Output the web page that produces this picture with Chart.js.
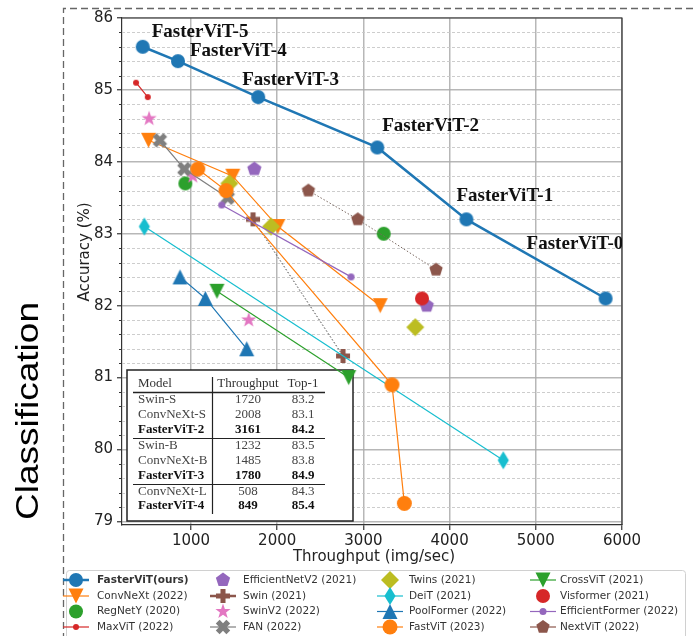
<!DOCTYPE html>
<html>
<head>
<meta charset="utf-8">
<script src="https://cdn.jsdelivr.net/npm/chart.js@4.4.1/dist/chart.umd.min.js"></script>
<style>
  html, body { margin: 0; padding: 0; background: #fff; }
  #wrap { position: relative; width: 696px; height: 636px; }
</style>
</head>
<body>
<div id="wrap"><canvas id="chart" width="696" height="636"></canvas></div>
<script>
// axis ticks
const xTicks = [1000, 2000, 3000, 4000, 5000, 6000];
const yTicks = [79, 80, 81, 82, 83, 84, 85, 86];

// series names, in legend order (matplotlib fills columns first)
const seriesNames = [
  'FasterViT(ours)', 'ConvNeXt (2022)', 'RegNetY (2020)', 'MaxViT (2022)',
  'EfficientNetV2 (2021)', 'Swin (2021)', 'SwinV2 (2022)', 'FAN (2022)',
  'Twins (2021)', 'DeiT (2021)', 'PoolFormer (2022)', 'FastViT (2023)',
  'CrossViT (2021)', 'Visformer (2021)', 'EfficientFormer (2022)', 'NextViT (2022)'
];

// throughput (img/sec) and top-1 accuracy (%) per family
const fastervitX = [440, 849, 1780, 3161, 4195, 5810];
const fastervitY = [85.6, 85.4, 84.9, 84.2, 83.2, 82.1];
const fastervitLabels = ['FasterViT-5', 'FasterViT-4', 'FasterViT-3', 'FasterViT-2', 'FasterViT-1', 'FasterViT-0'];
const convnextX = [508, 1485, 2008, 3195];
const convnextY = [84.3, 83.8, 83.1, 82.0];
const regnetyX = [935, 3236];
const regnetyY = [83.7, 83.0];
const maxvitX = [363, 499];
const maxvitY = [85.1, 84.9];
const effnetv2X = [1735, 3735];
const effnetv2Y = [83.9, 82.0];
const swinX = [1720, 2764];
const swinY = [83.2, 81.3];
const swinv2X = [514, 1021, 1670];
const swinv2Y = [84.6, 83.8, 81.8];
const fanX = [640, 923, 1427];
const fanY = [84.3, 83.9, 83.5];
const twinsX = [1445, 1929, 3602];
const twinsY = [83.7, 83.1, 81.7];
const deitX = [459, 4623];
const deitY = [83.1, 79.85];
const poolformerX = [873, 1167, 1647];
const poolformerY = [82.4, 82.1, 81.4];
const fastvitX = [1079, 1407, 3332, 3475];
const fastvitY = [83.9, 83.6, 80.9, 79.25];
const crossvitX = [1302, 2830];
const crossvitY = [82.2, 81.0];
const visformerX = [3680];
const visformerY = [82.1];
const efficientformerX = [1357, 2857];
const efficientformerY = [83.4, 82.4];
const nextvitX = [2362, 2935, 3843];
const nextvitY = [83.6, 83.2, 82.5];

const seriesX = [fastervitX, convnextX, regnetyX, maxvitX, effnetv2X, swinX, swinv2X, fanX,
  twinsX, deitX, poolformerX, fastvitX, crossvitX, visformerX, efficientformerX, nextvitX];
const seriesY = [fastervitY, convnextY, regnetyY, maxvitY, effnetv2Y, swinY, swinv2Y, fanY,
  twinsY, deitY, poolformerY, fastvitY, crossvitY, visformerY, efficientformerY, nextvitY];

// inset table
const tableHeader = ['Model', 'Throughput', 'Top-1'];
const tableModels = ['Swin-S', 'ConvNeXt-S', 'FasterViT-2', 'Swin-B', 'ConvNeXt-B', 'FasterViT-3', 'ConvNeXt-L', 'FasterViT-4'];
const tableThroughput = ['1720', '2008', '3161', '1232', '1485', '1780', '508', '849'];
const tableTop1 = ['83.2', '83.1', '84.2', '83.5', '83.8', '84.9', '84.3', '85.4'];
const tableBold = [false, false, true, false, false, true, false, true];

// look of each series
const looks = [
  { color: '#1f77b4', shape: 'circle', size: 14, line: 2.5 },
  { color: '#ff7f0e', shape: 'triDown', size: 15, line: 1.2 },
  { color: '#2ca02c', shape: 'circle', size: 14, line: 0 },
  { color: '#d62728', shape: 'circle', size: 6, line: 1.2 },
  { color: '#9467bd', shape: 'pentagon', size: 15, line: 0 },
  { color: '#8c564b', shape: 'plus', size: 14, line: 1, lineColor: '#444', dash: [1.5, 2], legendLine: 2.5 },
  { color: '#e377c2', shape: 'star', size: 16, line: 0 },
  { color: '#7f7f7f', shape: 'x', size: 15, line: 1.2 },
  { color: '#bcbd22', shape: 'diamond', size: 18, line: 0 },
  { color: '#17becf', shape: 'thinDiamond', size: 18, line: 1.2 },
  { color: '#1f77b4', shape: 'triUp', size: 15, line: 1.2 },
  { color: '#ff7f0e', shape: 'circle', size: 15, line: 1.2 },
  { color: '#2ca02c', shape: 'triDown', size: 15, line: 1.2 },
  { color: '#d62728', shape: 'circle', size: 14, line: 0 },
  { color: '#9467bd', shape: 'circle', size: 7, line: 1.2 },
  { color: '#8c564b', shape: 'pentagon', size: 14, line: 1, lineColor: '#7a6860', dash: [1.5, 2], legendLine: 1.2 }
];

// where the FasterViT names sit, relative to their point (left x, middle y)
const labelOffsets = [[9, -15], [12, -10], [-16, -17], [5, -21], [-10, -23], [-79, -54]];

function drawMarker(ctx, shape, x, y, s, color) {
  const r = s / 2;
  ctx.save();
  ctx.fillStyle = color;
  ctx.beginPath();
  if (shape === 'circle') {
    ctx.arc(x, y, r, 0, Math.PI * 2);
  } else if (shape === 'triDown' || shape === 'triUp') {
    const d = shape === 'triDown' ? 1 : -1;
    ctx.moveTo(x - r, y - d * r);
    ctx.lineTo(x + r, y - d * r);
    ctx.lineTo(x, y + d * r);
  } else if (shape === 'pentagon' || shape === 'star') {
    const n = shape === 'star' ? 10 : 5;
    for (let k = 0; k < n; k++) {
      const a = -Math.PI / 2 + k * 2 * Math.PI / n;
      const rr = (shape === 'star' && k % 2) ? r * 0.4 : r;
      const px = x + rr * Math.cos(a), py = y + rr * Math.sin(a);
      if (k === 0) ctx.moveTo(px, py); else ctx.lineTo(px, py);
    }
  } else if (shape === 'plus' || shape === 'x') {
    const t = r * 0.36;
    const pts = [[-t, -r], [t, -r], [t, -t], [r, -t], [r, t], [t, t], [t, r], [-t, r], [-t, t], [-r, t], [-r, -t], [-t, -t]];
    const a = shape === 'x' ? Math.PI / 4 : 0;
    const c = Math.cos(a), sn = Math.sin(a);
    pts.forEach(([px, py], k) => {
      const qx = x + px * c - py * sn, qy = y + px * sn + py * c;
      if (k === 0) ctx.moveTo(qx, qy); else ctx.lineTo(qx, qy);
    });
  } else if (shape === 'diamond' || shape === 'thinDiamond') {
    const w = shape === 'thinDiamond' ? r * 0.62 : r;
    ctx.moveTo(x, y - r);
    ctx.lineTo(x + w, y);
    ctx.lineTo(x, y + r);
    ctx.lineTo(x - w, y);
  }
  ctx.closePath();
  ctx.fill();
  ctx.restore();
}

function markerCanvas(look) {
  const n = Math.ceil(look.size + 4);
  const c = document.createElement('canvas');
  c.width = n; c.height = n;
  drawMarker(c.getContext('2d'), look.shape, n / 2, n / 2, look.size, look.color);
  return c;
}

const datasets = seriesNames.map((name, i) => {
  const look = looks[i];
  return {
    label: name,
    data: seriesX[i].map((v, j) => ({ x: v, y: seriesY[i][j] })),
    showLine: look.line > 0,
    borderColor: look.lineColor || look.color,
    borderWidth: look.line,
    borderDash: look.dash || [],
    backgroundColor: look.color,
    pointStyle: markerCanvas(look),
    pointRadius: look.size / 2,
    pointHoverRadius: look.size / 2,
    order: -i
  };
});

const majorGrid = 'rgba(170,170,170,0.85)';
const sansFont = 'DejaVu Sans';

const decor = {
  id: 'decor',
  beforeDatasetsDraw(chart) {
    const { ctx, chartArea: a, scales: { y } } = chart;
    ctx.save();
    // minor grid every 0.2 and small ticks on the left spine
    for (let k = 1; k < 36; k++) {
      if (k % 5 === 0) continue;
      const v = 79 + k * 0.2;
      const py = Math.round(y.getPixelForValue(v)) + 0.5;
      ctx.strokeStyle = 'rgba(200,200,200,0.9)';
      ctx.lineWidth = 1;
      ctx.setLineDash([3, 2]);
      ctx.beginPath(); ctx.moveTo(a.left, py); ctx.lineTo(a.right, py); ctx.stroke();
      ctx.setLineDash([]);
      ctx.strokeStyle = '#333';
      ctx.beginPath(); ctx.moveTo(a.left - 3, py); ctx.lineTo(a.left, py); ctx.stroke();
    }
    ctx.restore();
    // the inset table sits under the marks
    drawTable(ctx);
  },
  afterDatasetsDraw(chart) {
    const { ctx, chartArea: a } = chart;
    ctx.save();
    // top and right spines
    ctx.strokeStyle = '#333';
    ctx.lineWidth = 1.2;
    ctx.beginPath();
    ctx.moveTo(a.left, a.top); ctx.lineTo(a.right, a.top); ctx.lineTo(a.right, a.bottom);
    ctx.stroke();

    // FasterViT names
    const meta = chart.getDatasetMeta(0);
    ctx.beginPath(); ctx.rect(a.left, a.top, a.right - a.left, a.bottom - a.top); ctx.clip();
    ctx.fillStyle = '#111';
    ctx.font = 'bold 19px "Liberation Serif"';
    ctx.textBaseline = 'middle';
    ctx.textAlign = 'left';
    fastervitLabels.forEach((t, i) => {
      const p = meta.data[i];
      ctx.fillText(t, p.x + labelOffsets[i][0], p.y + labelOffsets[i][1]);
    });
    ctx.restore();
  },
  afterDraw(chart) {
    const { ctx, chartArea: a } = chart;
    ctx.save();
    // outer dashed frame
    ctx.strokeStyle = '#666';
    ctx.lineWidth = 1.3;
    ctx.setLineDash([7, 4]);
    ctx.beginPath();
    ctx.moveTo(63.5, 640); ctx.lineTo(63.5, 8.5); ctx.lineTo(696, 8.5);
    ctx.stroke();
    ctx.setLineDash([]);

    // axis titles
    ctx.fillStyle = '#222';
    ctx.font = '15px "' + sansFont + '"';
    ctx.textAlign = 'center';
    ctx.textBaseline = 'middle';
    ctx.fillText('Throughput (img/sec)', (a.left + a.right) / 2 + 2, 557);
    ctx.save();
    ctx.translate(89, 252);
    ctx.rotate(-Math.PI / 2);
    ctx.textBaseline = 'alphabetic';
    ctx.fillText('Accuracy (%)', 0, 0);
    ctx.restore();

    // side caption
    ctx.save();
    ctx.translate(38, 411);
    ctx.rotate(-Math.PI / 2);
    ctx.scale(1, 0.85);
    ctx.fillStyle = '#000';
    ctx.font = '37px "Liberation Sans"';
    ctx.textAlign = 'center';
    ctx.textBaseline = 'alphabetic';
    ctx.fillText('Classification', 0, 0);
    ctx.restore();

    drawLegend(ctx);
    ctx.restore();
  }
};

function drawTable(ctx) {
  const L = 127, T = 370, R = 353, B = 521;
  ctx.save();
  ctx.fillStyle = '#fff';
  ctx.fillRect(L, T, R - L, B - T);
  ctx.strokeStyle = '#222';
  ctx.lineWidth = 1.5;
  ctx.strokeRect(L, T, R - L, B - T);

  ctx.lineWidth = 1.5;
  ctx.beginPath(); ctx.moveTo(133, 392.5); ctx.lineTo(325, 392.5); ctx.stroke();
  ctx.lineWidth = 1.2;
  ctx.beginPath();
  ctx.moveTo(133, 438.5); ctx.lineTo(325, 438.5);
  ctx.moveTo(133, 484.5); ctx.lineTo(325, 484.5);
  ctx.moveTo(212.5, 377); ctx.lineTo(212.5, 514);
  ctx.stroke();

  const rowY = [400, 415, 430, 446, 461, 476, 492, 506];
  ctx.textBaseline = 'middle';
  ctx.fillStyle = '#333';
  ctx.font = '13px "Liberation Serif"';
  ctx.textAlign = 'left'; ctx.fillText(tableHeader[0], 138, 384);
  ctx.textAlign = 'center';
  ctx.fillText(tableHeader[1], 248, 384);
  ctx.fillText(tableHeader[2], 303, 384);
  tableModels.forEach((m, i) => {
    ctx.font = (tableBold[i] ? 'bold ' : '') + '13px "Liberation Serif"';
    ctx.fillStyle = tableBold[i] ? '#111' : '#444';
    ctx.textAlign = 'left';
    ctx.fillText(m, 138, rowY[i]);
    ctx.textAlign = 'center';
    ctx.fillText(tableThroughput[i], 248, rowY[i]);
    ctx.fillText(tableTop1[i], 303, rowY[i]);
  });
  ctx.restore();
}

function drawLegend(ctx) {
  const markX = [76, 223, 390, 543];
  const textX = [97, 243, 409, 560];
  const rowY = [580, 596, 611.5, 627];
  ctx.save();
  ctx.fillStyle = 'rgba(255,255,255,0.9)';
  ctx.strokeStyle = '#d0d0d0';
  ctx.lineWidth = 1;
  ctx.beginPath();
  ctx.roundRect(66.5, 570.5, 619, 80, 3);
  ctx.fill();
  ctx.stroke();
  seriesNames.forEach((name, i) => {
    const col = Math.floor(i / 4), row = i % 4;
    const look = looks[i];
    const mx = markX[col], my = rowY[row];
    const lw = look.legendLine || look.line;
    if (lw > 0) {
      ctx.strokeStyle = look.color;
      ctx.lineWidth = lw;
      ctx.beginPath(); ctx.moveTo(mx - 13, my); ctx.lineTo(mx + 13, my); ctx.stroke();
    }
    drawMarker(ctx, look.shape, mx, my, look.size, look.color);
    ctx.fillStyle = '#333';
    ctx.font = (i === 0 ? 'bold ' : '') + '10.5px "' + sansFont + '"';
    ctx.textAlign = 'left';
    ctx.textBaseline = 'middle';
    ctx.fillText(name, textX[col], my);
  });
  ctx.restore();
}

new Chart(document.getElementById('chart'), {
  type: 'scatter',
  data: { datasets: datasets },
  options: {
    responsive: false,
    animation: false,
    events: [],
    layout: { padding: { left: 0, top: 18, right: 74, bottom: 0 } },
    plugins: { legend: { display: false }, tooltip: { enabled: false } },
    scales: {
      x: {
        type: 'linear',
        min: 200,
        max: 6000,
        afterBuildTicks: s => { s.ticks = xTicks.map(v => ({ value: v })); },
        afterFit: s => { s.height = 111; },
        grid: { color: majorGrid, lineWidth: 1.5, tickLength: 5, tickColor: '#333', tickWidth: 1.2 },
        border: { color: '#333', width: 1.2 },
        ticks: { color: '#222', font: { family: sansFont, size: 15 }, padding: 2, maxRotation: 0, autoSkip: false,
          callback: v => String(v) }
      },
      y: {
        type: 'linear',
        min: 78.95,
        max: 86,
        afterBuildTicks: s => { s.ticks = yTicks.map(v => ({ value: v })); },
        afterFit: s => { s.width = 122; },
        grid: { color: majorGrid, lineWidth: 1.5, tickLength: 5, tickColor: '#333', tickWidth: 1.2 },
        border: { color: '#333', width: 1.2 },
        ticks: { color: '#222', font: { family: sansFont, size: 15 }, padding: 4, autoSkip: false,
          callback: v => String(v) }
      }
    }
  },
  plugins: [decor]
});
</script>
</body>
</html>
